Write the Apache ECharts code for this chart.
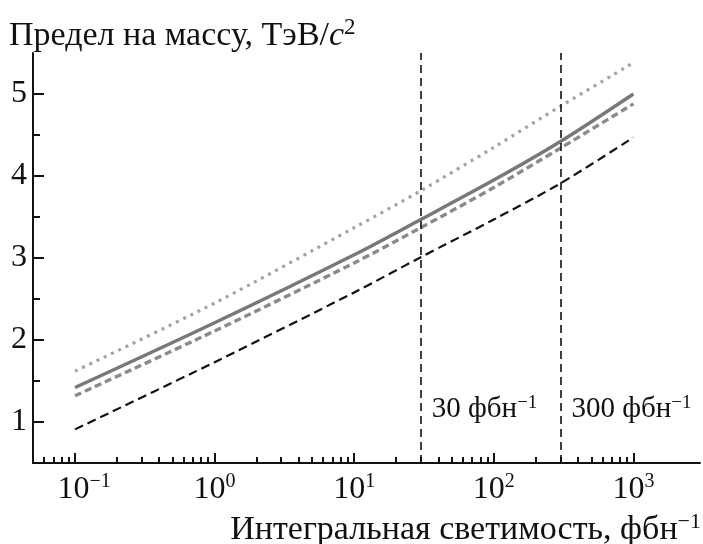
<!DOCTYPE html>
<html><head><meta charset="utf-8">
<script src="https://cdn.jsdelivr.net/npm/echarts@6/dist/echarts.min.js"></script>
<style>html,body{margin:0;padding:0;background:#fff}#c{width:703px;height:544px}</style>
</head><body><div id="c"></div>
<script>
// ---- data ----
const luminosity = [0.1, 1, 10, 30, 100, 300, 1000];
const dottedLimit = [1.62, 2.45, 3.37, 3.82, 4.35, 4.85, 5.38];
const solidLimit = [1.42, 2.21, 3.04, 3.47, 3.95, 4.42, 5.00];
const dashedGrayLimit = [1.32, 2.11, 2.94, 3.37, 3.86, 4.34, 4.88];
const dashedBlackLimit = [0.91, 1.73, 2.58, 3.01, 3.47, 3.91, 4.47];
const xMajorTicks = [0.1, 1, 10, 100, 1000];
const xMinorTicks = [0.05, 0.06, 0.07, 0.08, 0.09,
  0.2, 0.3, 0.4, 0.5, 0.6, 0.7, 0.8, 0.9,
  2, 3, 4, 5, 6, 7, 8, 9,
  20, 30, 40, 50, 60, 70, 80, 90,
  200, 300, 400, 500, 600, 700, 800, 900];
const yMajorTicks = [1, 2, 3, 4, 5];
const yMinorTicks = [1.5, 2.5, 3.5, 4.5];
const markerValues = [30, 300];
const markerLabels = ['30 фбн', '300 фбн'];
const yTitle = 'Предел на массу, ТэВ/';
const xTitle = 'Интегральная светимость, фбн';

// ---- chart ----
const SERIF = "'Liberation Serif', 'DejaVu Serif', serif";
const INK = '#111111';
const zip = (xs, ys) => xs.map((x, i) => [x, ys[i]]);
const supRich = (size, supSize, raise, shift) => ({
  b: { fontSize: size, fontFamily: SERIF, color: INK, fontWeight: 'normal' },
  bn: { fontSize: size, fontFamily: SERIF, color: INK, fontWeight: 'normal', padding: [0, 0, 0, shift || 0] },
  i: { fontSize: size, fontFamily: SERIF, color: INK, fontWeight: 'normal', fontStyle: 'italic' },
  s: { fontSize: supSize, fontFamily: SERIF, color: INK, fontWeight: 'normal', padding: [0, 0, raise, 0] }
});
const expLabel = v => {
  const e = Math.round(Math.log10(v));
  return e < 0 ? '{bn|10}{s|\u2212' + (-e) + '}' : '{b|10}{s|' + e + '}';
};

const chart = echarts.init(document.getElementById('c'), null, { renderer: 'canvas' });
const lineSeries = (data, color, width, type) => ({
  type: 'line', data, xAxisIndex: 0, yAxisIndex: 0, showSymbol: false, symbol: 'none',
  smooth: 0.3, lineStyle: { color, width, type, cap: 'butt' }, silent: true, z: 3
});

chart.setOption({
  animation: false,
  backgroundColor: '#fff',
  grid: { left: 33, right: 3, top: 53, bottom: 81, containLabel: false },
  title: [
    { text: '{b|' + yTitle + '}{i|c}{s|2}', left: 9, top: 16, padding: 0,
      textStyle: { fontWeight: 'normal', rich: supRich(34, 23, 17) } },
    { text: '{b|' + xTitle + '}{s|\u22121}', right: 2, top: 511, padding: 0,
      textStyle: { fontWeight: 'normal', rich: supRich(34, 22, 17) } }
  ],
  xAxis: [
    { type: 'log', logBase: 10, min: 0.05, max: 3000, position: 'bottom',
      axisLine: { show: true, lineStyle: { color: INK, width: 2 } },
      axisTick: { show: true, inside: true, length: 10, customValues: xMajorTicks,
        lineStyle: { color: INK, width: 2 } },
      axisLabel: { show: true, customValues: xMajorTicks, margin: 9,
        formatter: expLabel,
        rich: supRich(32, 20, 15, 18) },
      splitLine: { show: false }, minorTick: { show: false } },
    { type: 'log', logBase: 10, min: 0.05, max: 3000, position: 'bottom',
      axisLine: { show: false },
      axisTick: { show: true, inside: true, length: 6, customValues: xMinorTicks,
        lineStyle: { color: INK, width: 2 } },
      axisLabel: { show: false }, splitLine: { show: false } }
  ],
  yAxis: [
    { type: 'value', min: 0.5, max: 5.5, position: 'left',
      axisLine: { show: true, lineStyle: { color: INK, width: 2 } },
      axisTick: { show: true, inside: true, length: 11, customValues: yMajorTicks,
        lineStyle: { color: INK, width: 2 } },
      axisLabel: { show: true, customValues: yMajorTicks, margin: 6,
        fontSize: 32, fontFamily: SERIF, color: INK },
      splitLine: { show: false } },
    { type: 'value', min: 0.5, max: 5.5, position: 'left',
      axisLine: { show: false },
      axisTick: { show: true, inside: true, length: 7, customValues: yMinorTicks,
        lineStyle: { color: INK, width: 2 } },
      axisLabel: { show: false }, splitLine: { show: false } }
  ],
  series: [
    lineSeries(zip(luminosity, dottedLimit), '#a3a3a3', 3.2, [3, 5]),
    lineSeries(zip(luminosity, solidLimit), '#787878', 3.4, 'solid'),
    lineSeries(zip(luminosity, dashedGrayLimit), '#8a8a8a', 3.4, [7, 4]),
    Object.assign(lineSeries(zip(luminosity, dashedBlackLimit), INK, 2.2, [9, 5]), {
      markLine: {
        silent: true, symbol: 'none', label: { show: false },
        lineStyle: { color: INK, width: 1.6, type: [8, 5] },
        data: markerValues.map(v => ({ xAxis: v }))
      }
    }),
    { type: 'scatter', xAxisIndex: 0, yAxisIndex: 0, symbolSize: 0, silent: true,
      itemStyle: { color: INK, opacity: 1 },
      data: markerValues.map((v, i) => ({ value: [v, 1.15], name: markerLabels[i] })),
      label: { show: true, position: 'right', distance: 11, color: INK, opacity: 1,
        formatter: p => '{b|' + p.name + '}{s|\u22121}',
        rich: supRich(29, 19, 13) } }
  ]
});
</script></body></html>
